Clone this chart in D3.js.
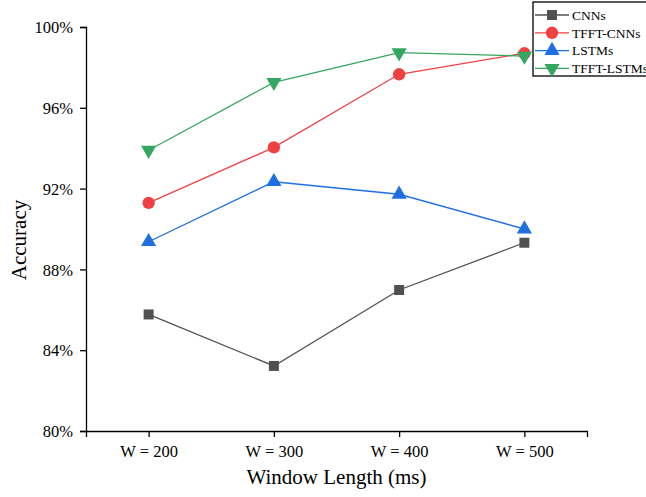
<!DOCTYPE html>
<html>
<head>
<meta charset="utf-8">
<script src="https://cdn.jsdelivr.net/npm/d3@7"></script>
<style>
  body { margin: 0; background: #fff; }
  text { font-family: "Liberation Serif", "DejaVu Serif", serif; fill: #000; }
</style>
</head>
<body>
<div id="chart"></div>
<script>
// data
var windows = ["W = 200", "W = 300", "W = 400", "W = 500"];
var cnns = [85.77, 83.22, 86.98, 89.32];
var tfftCnns = [91.29, 94.04, 97.66, 98.7];
var lstms = [89.37, 92.34, 91.72, 90.0];
var tfftLstms = [93.9, 97.26, 98.73, 98.56];
var yTicks = [80, 84, 88, 92, 96, 100];

var series = [
  { name: "CNNs", values: cnns, color: "#505050", symbol: d3.symbolSquare, size: 100, rot: 0 },
  { name: "TFFT-CNNs", values: tfftCnns, color: "#ef4142", symbol: d3.symbolCircle, size: 120, rot: 0 },
  { name: "LSTMs", values: lstms, color: "#1f6fe0", symbol: d3.symbolTriangle, size: 100, rot: 0 },
  { name: "TFFT-LSTMs", values: tfftLstms, color: "#35a760", symbol: d3.symbolTriangle, size: 100, rot: 180 }
];

var svgWidth = 646;
var svgHeight = 497;
var margin = { top: 27, right: 59, bottom: 66, left: 86 };
var width = svgWidth - margin.left - margin.right;
var height = svgHeight - margin.top - margin.bottom;

var svg = d3.select("#chart").append("svg")
  .attr("width", svgWidth)
  .attr("height", svgHeight);

var chartGroup = svg.append("g")
  .attr("transform", `translate(${margin.left}, ${margin.top})`);

var xScale = d3.scalePoint()
  .domain(windows)
  .range([0, width])
  .padding(0.5);

var yScale = d3.scaleLinear()
  .domain([80, 100])
  .range([height, 0]);

// axes
var bottomAxis = d3.axisBottom(xScale).tickSizeOuter(0).tickSize(6).tickPadding(8);
var leftAxis = d3.axisLeft(yScale).tickValues(yTicks).tickSizeOuter(0).tickSize(6)
  .tickFormat(d => d + "%").tickPadding(7);

var gx = chartGroup.append("g")
  .attr("transform", `translate(0, ${height})`)
  .call(bottomAxis);
var gy = chartGroup.append("g").call(leftAxis);

[gx, gy].forEach(function(g) {
  g.selectAll("path, line").attr("stroke", "#000").attr("stroke-width", 1.3);
  g.selectAll("text").style("font-size", "16.5px").attr("fill", "#000");
});
gy.selectAll("text").attr("dy", "0.35em");

// lines + markers
var line = d3.line()
  .x((d, i) => xScale(windows[i]))
  .y(d => yScale(d));

series.forEach(function(s) {
  chartGroup.append("path")
    .datum(s.values)
    .attr("fill", "none")
    .attr("stroke", s.color)
    .attr("stroke-width", 1.3)
    .attr("d", line);
});

series.forEach(function(s) {
  chartGroup.selectAll(null)
    .data(s.values)
    .enter()
    .append("path")
    .attr("d", d3.symbol().type(s.symbol).size(s.size))
    .attr("transform", (d, i) => `translate(${xScale(windows[i])}, ${yScale(d)}) rotate(${s.rot})`)
    .attr("fill", s.color);
});

// axis titles
svg.append("text")
  .attr("x", margin.left + width / 2)
  .attr("y", 484)
  .attr("text-anchor", "middle")
  .style("font-size", "21px")
  .text("Window Length (ms)");

svg.append("text")
  .attr("transform", "rotate(-90)")
  .attr("x", -240)
  .attr("y", 26)
  .attr("text-anchor", "middle")
  .style("font-size", "21px")
  .text("Accuracy");

// legend
var legend = svg.append("g").attr("transform", "translate(533, 2)");
legend.append("rect")
  .attr("width", 120)
  .attr("height", 74)
  .attr("fill", "#fff")
  .attr("stroke", "#000")
  .attr("stroke-width", 1.3);

series.forEach(function(s, i) {
  var yy = 13 + i * 17.8;
  legend.append("line")
    .attr("x1", 2).attr("x2", 36)
    .attr("y1", yy).attr("y2", yy)
    .attr("stroke", s.color)
    .attr("stroke-width", 1.3);
  legend.append("path")
    .attr("d", d3.symbol().type(s.symbol).size(s.size))
    .attr("transform", `translate(19, ${yy}) rotate(${s.rot})`)
    .attr("fill", s.color);
  legend.append("text")
    .attr("x", 39)
    .attr("y", yy)
    .attr("dy", "0.35em")
    .style("font-size", "13.5px")
    .text(s.name);
});
</script>
</body>
</html>
